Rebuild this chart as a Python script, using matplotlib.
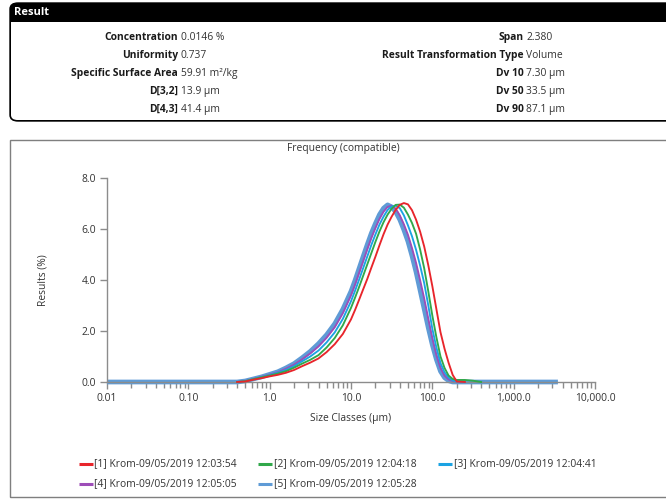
import matplotlib
matplotlib.use('Agg')
import matplotlib.pyplot as plt
from matplotlib.lines import Line2D
from matplotlib.patches import Rectangle, FancyBboxPatch
from matplotlib.ticker import FixedLocator, LogLocator, NullFormatter

plt.rcParams['font.family'] = ['Open Sans', 'DejaVu Sans']

## Tabela de resultados
left_labels = ['Concentration', 'Uniformity', 'Specific Surface Area', 'D[3,2]', 'D[4,3]']
left_values = ['0.0146 %', '0.737', '59.91 m²/kg', '13.9 µm', '41.4 µm']
right_labels = ['Span', 'Result Transformation Type', 'Dv 10', 'Dv 50', 'Dv 90']
right_values = ['2.380', 'Volume', '7.30 µm', '33.5 µm', '87.1 µm']

## Classes de tamanho (µm) e curvas de frequência (%)
sizes = [0.01, 0.398, 0.501, 0.631, 0.794, 1.0, 1.259, 1.585, 1.995, 2.512, 3.162,
         3.981, 5.012, 6.310, 7.943, 10.0,
         11.22, 12.59, 14.13, 15.85, 17.78, 19.95, 22.39, 25.12, 28.18, 31.62,
         35.48, 39.81, 44.67, 50.12, 56.23, 63.10, 70.79, 79.43, 89.13, 100.0,
         112.2, 125.9, 141.3, 158.5, 177.8, 199.5,
         251.2, 316.2, 398.1, 3500.0]
freq_1 = [0, 0, 0.02, 0.09, 0.15, 0.22, 0.28, 0.36, 0.47, 0.62, 0.76, 0.92, 1.17, 1.48, 1.88, 2.45,
          2.82, 3.22, 3.63, 4.03, 4.47, 4.90, 5.35, 5.78, 6.16, 6.47,
          6.74, 6.93, 7.00, 6.95, 6.72, 6.35, 5.88, 5.30, 4.57, 3.75,
          2.85, 1.95, 1.30, 0.75, 0.28, 0.02,
          0, 0, 0, 0]
freq_2 = [0, 0, 0.03, 0.11, 0.18, 0.25, 0.33, 0.42, 0.56, 0.72, 0.87, 1.05, 1.35, 1.72, 2.22, 2.90,
          3.30, 3.72, 4.16, 4.60, 5.04, 5.48, 5.89, 6.25, 6.55, 6.78,
          6.93, 6.94, 6.82, 6.55, 6.22, 5.80, 5.18, 4.45, 3.55, 2.60,
          1.75, 1.00, 0.55, 0.25, 0.12, 0.08,
          0.08, 0.05, 0, 0]
freq_3 = [0, 0, 0.03, 0.11, 0.19, 0.27, 0.36, 0.47, 0.62, 0.81, 1.00, 1.23, 1.55, 1.94, 2.47, 3.16,
          3.57, 4.01, 4.46, 4.91, 5.36, 5.77, 6.16, 6.47, 6.73, 6.87,
          6.90, 6.80, 6.52, 6.13, 5.70, 5.17, 4.55, 3.87, 3.00, 2.08,
          1.35, 0.74, 0.38, 0.17, 0.06, 0.02,
          0, 0, 0, 0]
freq_4 = [0, 0, 0.04, 0.12, 0.20, 0.29, 0.38, 0.52, 0.68, 0.89, 1.12, 1.39, 1.73, 2.14, 2.69, 3.39,
          3.81, 4.27, 4.73, 5.19, 5.63, 6.02, 6.38, 6.66, 6.85, 6.90,
          6.78, 6.52, 6.17, 5.76, 5.24, 4.66, 3.98, 3.27, 2.48, 1.71,
          1.05, 0.55, 0.25, 0.10, 0.04, 0.02,
          0, 0, 0, 0]
freq_5 = [0, 0, 0.04, 0.12, 0.20, 0.30, 0.40, 0.55, 0.72, 0.95, 1.20, 1.50, 1.85, 2.28, 2.85, 3.55,
          3.98, 4.45, 4.92, 5.38, 5.82, 6.20, 6.55, 6.80, 6.93, 6.85,
          6.65, 6.35, 5.95, 5.50, 4.93, 4.30, 3.58, 2.85, 2.12, 1.45,
          0.88, 0.42, 0.17, 0.05, 0, 0,
          0, 0, 0, 0]

names = ['[1] Krom-09/05/2019 12:03:54', '[2] Krom-09/05/2019 12:04:18',
         '[3] Krom-09/05/2019 12:04:41', '[4] Krom-09/05/2019 12:05:05',
         '[5] Krom-09/05/2019 12:05:28']
colors = ['#e8252b', '#31a84a', '#1ba3e3', '#9d4db8', '#5f9bd6']
series = [freq_1, freq_2, freq_3, freq_4, freq_5]

x_ticks = [0.01, 0.1, 1, 10, 100, 1000, 10000]
x_tick_labels = ['0.01', '0.10', '1.0', '10.0', '100.0', '1,000.0', '10,000.0']
y_ticks = [0, 2, 4, 6, 8]
y_tick_labels = ['0.0', '2.0', '4.0', '6.0', '8.0']

FS = 7.4
W, H = 666, 499
def fx(px):
    return px / W
def fy(py):
    return 1 - py / H

fig = plt.figure(figsize=(6.66, 4.99), dpi=100)
fig.patch.set_facecolor('white')

## caixa "Result"
fig.add_artist(FancyBboxPatch((fx(10), fy(121)), fx(700) - fx(10), fy(3) - fy(121),
                              boxstyle='round,pad=0,rounding_size=0.012',
                              transform=fig.transFigure, facecolor='black',
                              edgecolor='black', lw=1))
fig.add_artist(FancyBboxPatch((fx(11), fy(120)), fx(700) - fx(11), fy(12) - fy(120),
                              boxstyle='round,pad=0,rounding_size=0.01',
                              transform=fig.transFigure, facecolor='white',
                              edgecolor='none'))
fig.add_artist(Rectangle((fx(10), fy(22)), fx(700) - fx(10), fy(9) - fy(22),
                         transform=fig.transFigure, facecolor='black', edgecolor='none'))
fig.text(fx(14), fy(12.5), 'Result', color='white', fontsize=8, fontweight='bold',
         va='center', ha='left')

rows_y = [37.5, 55.5, 73.5, 91.5, 109.5]
for i in range(len(rows_y)):
    fig.text(fx(178), fy(rows_y[i]), left_labels[i], fontsize=FS, fontweight='bold',
             color='#1a1a1a', ha='right', va='center')
    fig.text(fx(180.5), fy(rows_y[i]), left_values[i], fontsize=FS, color='#333333',
             ha='left', va='center')
    fig.text(fx(524), fy(rows_y[i]), right_labels[i], fontsize=FS, fontweight='bold',
             color='#1a1a1a', ha='right', va='center')
    fig.text(fx(526.5), fy(rows_y[i]), right_values[i], fontsize=FS, color='#333333',
             ha='left', va='center')

## caixa do gráfico
fig.add_artist(Rectangle((fx(10), fy(497)), fx(700) - fx(10), fy(140) - fy(497),
                         transform=fig.transFigure, facecolor='none',
                         edgecolor='#7f7f7f', lw=1))

ax = fig.add_axes([fx(107), fy(382), fx(595) - fx(107), fy(177.5) - fy(382)])
ax.set_facecolor('none')

# curva 5 (larga) embaixo, cobrindo todo o eixo
ax.plot(sizes, freq_5, color=colors[4], lw=3.4, solid_capstyle='butt', clip_on=False, zorder=2)
for k in [3, 2, 1, 0]:
    y = series[k]
    nz = [i for i in range(len(y)) if y[i] > 0]
    a, b = nz[0] - 1, nz[-1] + 1
    ax.plot(sizes[a:b + 1], y[a:b + 1], color=colors[k], lw=1.35, clip_on=False, zorder=3)

ax.set_xscale('log')
ax.set_xlim(0.01, 10000)
ax.set_ylim(0, 8)
ax.xaxis.set_major_locator(FixedLocator(x_ticks))
ax.set_xticklabels(x_tick_labels)
ax.xaxis.set_minor_locator(LogLocator(base=10, subs=range(2, 10), numticks=20))
ax.xaxis.set_minor_formatter(NullFormatter())
ax.set_yticks(y_ticks)
ax.set_yticklabels(y_tick_labels)

for s in ['top', 'right']:
    ax.spines[s].set_visible(False)
for s in ['left', 'bottom']:
    ax.spines[s].set_color('#8c8c8c')
    ax.spines[s].set_linewidth(1.0)
ax.tick_params(axis='both', which='major', direction='out', length=5, width=1,
               color='#8c8c8c', labelsize=FS, labelcolor='#333333', pad=3)
ax.tick_params(axis='x', which='minor', direction='out', length=4, width=1, color='#8c8c8c')

fig.text(fx(343), fy(148.5), 'Frequency (compatible)', fontsize=FS, color='#333333',
         ha='center', va='center')
fig.text(fx(351), fy(418), 'Size Classes (µm)', fontsize=FS, color='#333333',
         ha='center', va='center')
fig.text(fx(43), fy(280), 'Results (%)', fontsize=FS, color='#333333',
         ha='center', va='center', rotation=90)

## legenda
leg_pos = [(79, 463.5), (258, 463.5), (438, 463.5), (79, 483.5), (258, 483.5)]
for k in range(len(names)):
    x0, y0 = leg_pos[k]
    fig.add_artist(Line2D([fx(x0), fx(x0 + 14)], [fy(y0), fy(y0)], color=colors[k],
                          lw=2.2, transform=fig.transFigure, solid_capstyle='butt'))
    fig.text(fx(x0 + 15.5), fy(y0), names[k], fontsize=FS, color='#333333',
             ha='left', va='center')

fig.savefig('out.png', dpi=100, facecolor='white')
